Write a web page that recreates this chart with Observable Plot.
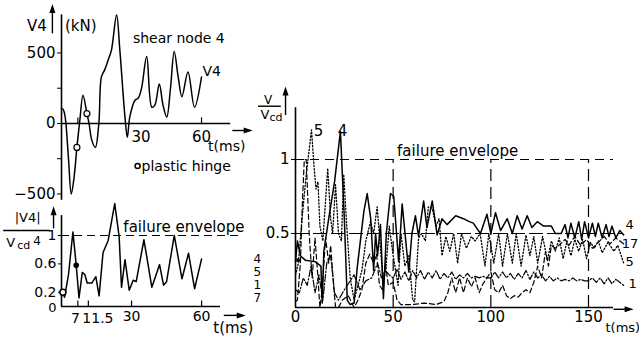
<!DOCTYPE html>
<html><head><meta charset="utf-8">
<script src="https://cdn.jsdelivr.net/npm/d3@7"></script>
<script src="https://cdn.jsdelivr.net/npm/@observablehq/plot@0.6"></script>
<style>
body{margin:0;background:#fff;}
#chart{position:relative;width:639px;height:337px;overflow:hidden;background:#fff;}
#chart svg{position:absolute;left:0;top:0;}
</style></head><body><div id="chart"></div>
<script>
// ---------- Panel A: shear at node 4, V4 (kN) vs t (ms) ----------
const shearNode4 = [[0,107],[0.7,100],[1.3,70],[1.9,0],[3,-250],[4.2,-500],[5.4,-380],[6.6,-170],[7.9,30],[9.2,200],[10.9,70],[11.8,0],[13,-120],[14.5,-170],[16,0],[17.1,330],[18.5,380],[20,450],[21.4,520],[23.6,770],[25,520],[27.2,45],[28.2,-98],[29.3,50],[31.5,165],[32.9,180],[34.3,250],[36.5,475],[38.7,115],[40,130],[41.9,280],[43.5,130],[45.1,45],[46.7,250],[48.3,510],[50,330],[51.6,190],[54.2,365],[57,115],[60,330]];
const hingesA = [[6.6,-170],[10.9,70]];
const yTicksA = [-500,-250,0,250,500];
const yLabelsA = [-500,0,500];
const xTickLabelsA = [30,60];

// ---------- Panel B: |V4|/Vcd4 vs t (ms) ----------
const ratioNode4 = [[0,0.22],[1.3,0.13],[3,0.45],[4.9,1.05],[6.3,0.58],[7.5,0.12],[8.9,0.48],[10,0.45],[11,0.33],[13,0.33],[14.7,0.42],[16.1,0.15],[17.8,0.76],[20,0.93],[22.8,1.45],[24.7,0.98],[25.7,0.27],[27.2,0.66],[29,0.23],[30.7,0.37],[32,0.35],[35.3,0.94],[38.7,0.27],[42,0.59],[43.7,0.3],[45,0.35],[48.3,1.0],[51.6,0.39],[54.4,0.75],[57,0.25],[60,0.67]];
const xTicksB = [7,11.5,30,60];
const yTicksB = [0,0.2,0.6,1];
const hingeOpenB = [[0.6,0.2]];
const hingeFilledB = [[6.3,0.58]];

// ---------- Panel C: V/Vcd for nodes 4, 5, 17, 1 vs t (ms) ----------
const node4 = [[0,0.31],[1,0.45],[2.5,0.35],[5,0.32],[10,0.31],[13,0.28],[13.7,0.03],[14.5,0.38],[17,0.6],[20,0.85],[23,1.19],[25,0.6],[26.5,0.05],[28,0.02],[30,0.03],[31.6,0.27],[35,0.65],[36.7,0.77],[38.5,0.6],[40,0.25],[41,0.5],[42,0.35],[43.5,0.56],[45,0.06],[46.5,0.5],[48.6,0.77],[50.3,0.75],[52.8,0.31],[54.6,0.7],[58,0.24],[59.6,0.5],[61.4,0.62],[63,0.48],[65.6,0.72],[67.3,0.54],[70,0.72],[72.5,0.49],[75,0.6],[77.6,0.56],[82,0.62],[86,0.6],[89,0.58],[91,0.57],[94.7,0.5],[98,0.63],[100,0.5],[102.4,0.64],[105,0.52],[108.4,0.6],[111,0.5],[113.5,0.62],[116,0.53],[118.6,0.62],[121,0.54],[123.8,0.58],[127,0.55],[131,0.55],[133,0.5],[136,0.5],[138,0.56],[139.5,0.47],[141,0.57],[143,0.47],[145,0.58],[146.5,0.46],[148,0.58],[150,0.47],[152,0.57],[153.5,0.48],[155,0.57],[157,0.47],[159,0.56],[160.5,0.48],[162,0.55],[164,0.47],[166,0.52],[168,0.49]];
const node5 = [[0,0.22],[1.5,0.3],[3,0.55],[5.5,0.9],[8.2,1.2],[9.5,0.95],[10.5,0.8],[11.5,0.85],[12.5,0.55],[14,0.45],[16.5,0.94],[18,0.6],[19,0.5],[20.5,0.83],[22,0.5],[23.5,0.45],[24.7,0.9],[26,0.6],[28,0.2],[30,0.05],[31.6,0.13],[34,0.25],[36,0.45],[38.4,0.58],[40,0.5],[41.8,0.68],[43.5,0.4],[45,0.15],[46.5,0.3],[48,0.55],[50,0.35],[52.5,0.15],[54,0.5],[56,0.28],[58,0.35],[60,0.05],[61,0.04],[63,0.47],[64.5,0.5],[66.5,0.45],[68,0.68],[70,0.67],[72,0.55],[73.5,0.6],[75,0.35],[77,0.48],[79,0.38],[81,0.5],[83,0.3],[85,0.5],[87.5,0.4],[90,0.48],[92,0.45],[94.5,0.5],[97,0.28],[99,0.5],[101.5,0.3],[104,0.5],[106,0.28],[108.5,0.5],[111,0.3],[113,0.5],[115.5,0.28],[118,0.49],[120,0.35],[122,0.48],[124,0.3],[126.5,0.48],[129,0.32],[131,0.45],[133,0.38],[135,0.47],[137,0.33],[139,0.45],[141,0.35],[143,0.46],[145,0.38],[147,0.46],[149,0.33],[151,0.44],[153,0.4],[155,0.45],[157,0.37],[160,0.44],[163,0.38],[165,0.42],[168,0.3]];
const node17 = [[0,0.04],[1,0.05],[2.5,0.3],[3.5,0.7],[4.5,1.0],[5.5,1.0],[7,0.5],[8.5,0.2],[10,0.47],[11.5,0.2],[12.5,0.0],[13.5,0.1],[15.4,0.47],[17,0.3],[18,0.42],[19.5,0.15],[20.5,0.0],[22,0.0],[24,0.05],[27,0.08],[30,0.0],[32,0.05],[34,0.12],[36,0.3],[38,0.36],[40,0.3],[41.5,0.36],[43,0.15],[44.5,0.12],[46,0.3],[47.5,0.15],[50,0.17],[52,0.05],[54,0.02],[60,0.02],[66,0.03],[72,0.02],[76,0.04],[78,0.1],[80,0.2],[82,0.1],[84,0.2],[86,0.1],[88,0.2],[90,0.14],[92,0.2],[94,0.1],[96,0.16],[98,0.2],[100,0.24],[102,0.12],[104,0.1],[106,0.15],[108,0.08],[110,0.06],[112,0.08],[114,0.07],[116,0.1],[118,0.12],[120,0.1],[122,0.17],[124,0.28],[126,0.2],[128,0.38],[129.5,0.28],[131,0.42],[133,0.4],[135.7,0.43],[138,0.46],[140,0.42],[143,0.48],[146,0.42],[149,0.46],[152,0.4],[155,0.44],[158,0.48],[161,0.43],[164,0.47],[168,0.43]];
const node1 = [[0,0.12],[2,0.1],[4,0.2],[6,0.15],[8,0.28],[10,0.1],[12,0.22],[14,0.05],[16,0.3],[18,0.35],[20,0.1],[22,0.05],[25,0.12],[28,0.18],[30,0.22],[33,0.12],[36,0.18],[39,0.2],[42,0.3],[44,0.2],[46,0.25],[48,0.22],[50,0.2],[52,0.26],[54,0.19],[56,0.24],[58,0.18],[60,0.25],[62,0.2],[64,0.25],[66,0.19],[68,0.24],[70,0.2],[72,0.25],[74,0.19],[76,0.23],[78,0.2],[80,0.24],[82,0.19],[84,0.22],[86,0.2],[88,0.23],[90,0.2],[92,0.21],[94,0.2],[96,0.21],[98,0.2],[100,0.2],[102,0.24],[104,0.2],[106,0.24],[108,0.2],[110,0.23],[112,0.19],[114,0.23],[116,0.2],[118,0.25],[120,0.19],[122,0.24],[124,0.2],[126,0.22],[128,0.18],[130,0.21],[132,0.18],[134,0.2],[136,0.18],[138,0.19],[140,0.18],[142,0.2],[144,0.18],[146,0.19],[148,0.18],[150,0.18],[152,0.2],[154,0.17],[156,0.2],[158,0.16],[160,0.2],[162,0.16],[164,0.19],[166,0.17],[168,0.15]];
const xTicksC = [0,50,100,150];
const yTicksC = [0.5,1];
const envelopeTimesC = [50,100,150];
const endLabelsC = ["4","17","5","1"];
const endLabelT = [169,167,169,170.5];
const endLabelV = [0.56,0.43,0.31,0.16];
const startLabelsC = ["4","5","1","7"];
const startLabelV = [0.33,0.24,0.15,0.06];
const peakLabelsC = ["5","4"];
const peakLabelT = [11.8,24.1];

// ---------- helpers ----------
const FONT = '"DejaVu Sans", "Liberation Sans", sans-serif';
const pts = a => a.map(([t, v]) => ({t, v}));
const tickUp = {draw(c){c.moveTo(0,0);c.lineTo(0,-6);}};
const tip = {draw(c){c.moveTo(0,-8);c.lineTo(3,1);c.lineTo(-3,1);c.closePath();}};
const style = {background:"transparent", fontFamily:FONT, fontSize:"14px", color:"black", overflow:"visible"};
const chart = document.getElementById("chart");
const base = {width:639, height:337, style};
const seg = (x1, y1, x2, y2) => Plot.link([{x1, y1, x2, y2}], {x1:"x1", y1:"y1", x2:"x2", y2:"y2", stroke:"black", strokeWidth:1.4});
const label = (t, v, s, o = {}) => Plot.text([{t, v, s}], {x:"t", y:"v", text:"s", ...o});

// Panel A
chart.append(Plot.plot({
  ...base,
  marginLeft:61, marginRight:408.8, marginTop:14.4, marginBottom:137.2,
  x:{domain:[0,72.5], axis:null},
  y:{domain:[-545,770], axis:null},
  marks:[
    Plot.ruleX([0], {stroke:"black", strokeWidth:1.6}),
    Plot.ruleY([0], {stroke:"black", strokeWidth:1.6}),
    Plot.axisY({ticks:yTicksA, tickSize:4, tickPadding:2, fontSize:15,
      tickFormat:d => yLabelsA.includes(d) ? (d < 0 ? "\u2212" : "") + Math.abs(d) : "", label:null}),
    Plot.dot([7,60], {x:d=>d, y:0, symbol:tickUp, stroke:"black", strokeWidth:1.2}),
    Plot.text(xTickLabelsA.slice(0,1), {x:d=>d, y:-100, text:d=>String(d), textAnchor:"start", fontSize:15}),
    Plot.text(xTickLabelsA.slice(1), {x:d=>d, y:-100, text:d=>String(d), fontSize:15}),
    Plot.line(pts(shearNode4), {x:"t", y:"v", curve:"catmull-rom", stroke:"black", strokeWidth:1.5}),
    Plot.dot(pts(hingesA), {x:"t", y:"v", r:3, stroke:"black", fill:"white", strokeWidth:1.2}),
    seg(-3.9, 640, -3.9, 790),
    Plot.dot([{t:-3.9, v:790}], {x:"t", y:"v", symbol:tip, fill:"black"}),
    seg(73.2, -50, 78.5, -50),
    Plot.dot([{t:78.5, v:-50}], {x:"t", y:"v", symbol:tip, rotate:90, fill:"black"}),
    label(-10.5, 690, "V4", {fontSize:15}),
    label(1.5, 690, "(kN)", {textAnchor:"start", fontSize:15}),
    label(30.6, 605, "shear node 4", {textAnchor:"start"}),
    label(60.4, 365, "V4", {textAnchor:"start"}),
    label(62.8, -165, "t(ms)", {textAnchor:"start", fontSize:14}),
    Plot.dot([{t:32.6, v:-302}], {x:"t", y:"v", r:2.5, stroke:"black", fill:"white"}),
    label(34.3, -302, "plastic hinge", {textAnchor:"start", fontSize:14})
  ]
}));

// Panel B
chart.append(Plot.plot({
  ...base,
  marginLeft:61, marginRight:419, marginTop:215.1, marginBottom:31,
  x:{domain:[0,68.1], axis:null},
  y:{domain:[0,1.28], axis:null},
  marks:[
    Plot.ruleX([0], {stroke:"black", strokeWidth:1.6}),
    Plot.ruleY([0], {stroke:"black", strokeWidth:1.6}),
    Plot.ruleY([1], {x1:0, x2:76.5, stroke:"black", strokeWidth:1.2, strokeDasharray:"8,5"}),
    Plot.axisY({ticks:yTicksB.slice(1), tickSize:3, tickPadding:2, fontSize:14, tickFormat:d=>String(d), label:null}),
    Plot.text(yTicksB.slice(0,1), {x:0, y:d=>d, text:d=>String(d), textAnchor:"end", dx:-5, dy:1, fontSize:13}),
    Plot.axisX({ticks:xTicksB.slice(2), tickSize:0, tickPadding:5, fontSize:14, tickFormat:d=>String(d), label:null}),
    Plot.text(xTicksB.slice(0,1), {x:d=>d, y:-0.17, text:d=>String(d), textAnchor:"end", dx:2, fontSize:14}),
    Plot.text(xTicksB.slice(1,2), {x:d=>d, y:-0.17, text:d=>String(d), textAnchor:"start", dx:-6, fontSize:14}),
    Plot.dot(xTicksB, {x:d=>d, y:0, symbol:tickUp, stroke:"black", strokeWidth:1.2}),
    Plot.line(pts(ratioNode4), {x:"t", y:"v", stroke:"black", strokeWidth:1.5}),
    Plot.dot(pts(hingeOpenB), {x:"t", y:"v", r:3, stroke:"black", fill:"white"}),
    Plot.dot(pts(hingeFilledB), {x:"t", y:"v", r:2.8, fill:"black"}),
    label(26.5, 1.12, "failure envelope", {textAnchor:"start", fontSize:15}),
    label(-14.5, 1.25, "|V4|", {fontSize:13}),
    seg(-25, 1.07, -5, 1.07),
    label(-21.8, 0.9, "V", {fontSize:13}),
    label(-16.2, 0.86, "cd", {fontSize:11}),
    label(-10.5, 0.92, "4", {fontSize:12}),
    seg(-3.4, 1.1, -3.4, 1.3),
    Plot.dot([{t:-3.4, v:1.3}], {x:"t", y:"v", symbol:tip, fill:"black"}),
    seg(69.5, -0.125, 75.5, -0.125),
    Plot.dot([{t:75.5, v:-0.125}], {x:"t", y:"v", symbol:tip, rotate:90, fill:"black"}),
    label(65, -0.31, "t(ms)", {textAnchor:"start", fontSize:15})
  ]
}));

// Panel C
chart.append(Plot.plot({
  ...base,
  marginLeft:295, marginRight:26, marginTop:107.2, marginBottom:30,
  x:{domain:[0,162.8], axis:null},
  y:{domain:[0,1.35], axis:null},
  marks:[
    Plot.ruleX([0], {stroke:"black", strokeWidth:1.6}),
    Plot.ruleY([0], {stroke:"black", strokeWidth:1.6}),
    Plot.ruleY([1], {x1:0, x2:162.8, stroke:"black", strokeWidth:1.2, strokeDasharray:"9,6"}),
    Plot.ruleY([0.5], {x1:0, x2:168, stroke:"black", strokeWidth:1.2, strokeDasharray:"14,4"}),
    Plot.ruleX(envelopeTimesC, {y1:0, y2:1, stroke:"black", strokeWidth:1.2, strokeDasharray:"12,6"}),
    Plot.axisY({ticks:yTicksC, tickSize:4, tickPadding:2, fontSize:15, tickFormat:d=>String(d), label:null}),
    Plot.axisX({ticks:xTicksC, tickSize:0, tickPadding:4, fontSize:15, tickFormat:d=>String(d), label:null}),
    Plot.line(pts(node1), {x:"t", y:"v", stroke:"black", strokeWidth:1.2, strokeDasharray:"7,2,1.5,2"}),
    Plot.line(pts(node17), {x:"t", y:"v", stroke:"black", strokeWidth:1.2, strokeDasharray:"5,3"}),
    Plot.line(pts(node5), {x:"t", y:"v", stroke:"black", strokeWidth:1.3, strokeDasharray:"1.3,2"}),
    Plot.line(pts(node4), {x:"t", y:"v", stroke:"black", strokeWidth:1.5}),
    Plot.dot([{t:1.3, v:0.32}], {x:"t", y:"v", r:2, fill:"black"}),
    Plot.text(endLabelsC, {x:(d,i)=>endLabelT[i], y:(d,i)=>endLabelV[i], text:d=>d, textAnchor:"start", fontSize:13}),
    Plot.text(startLabelsC, {x:-19.5, y:(d,i)=>startLabelV[i], text:d=>d, fontSize:12}),
    Plot.text(peakLabelsC, {x:(d,i)=>peakLabelT[i], y:1.19, text:d=>d, fontSize:15}),
    label(52, 1.055, "failure envelope", {textAnchor:"start", fontSize:15}),
    label(-14, 1.4, "V", {fontSize:12}),
    seg(-19.2, 1.36, -7.5, 1.36),
    label(-15.6, 1.305, "V", {fontSize:13}),
    label(-10, 1.285, "cd", {fontSize:11}),
    seg(-5.1, 1.3, -5.1, 1.44),
    Plot.dot([{t:-5.1, v:1.44}], {x:"t", y:"v", symbol:tip, fill:"black"}),
    seg(162.8, -0.012, 169, -0.012),
    Plot.dot([{t:169, v:-0.012}], {x:"t", y:"v", symbol:tip, rotate:90, fill:"black"}),
    label(158.7, -0.135, "t(ms)", {textAnchor:"start", fontSize:13})
  ]
}));
</script></body></html>
